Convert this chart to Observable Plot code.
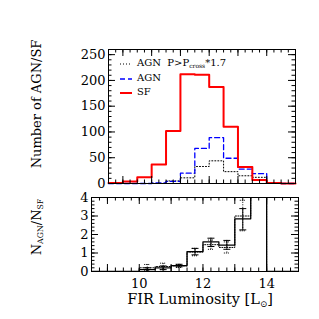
<!DOCTYPE html>
<html><head><meta charset="utf-8">
<script src="https://cdn.jsdelivr.net/npm/d3@7"></script>
<script src="https://cdn.jsdelivr.net/npm/@observablehq/plot@0.6"></script>
<style>
body{margin:0;background:#fff;}
#wrap{position:relative;width:319px;height:319px;font-family:"DejaVu Serif",serif;color:#000;overflow:hidden;}
#wrap > svg{position:absolute;left:0;font-family:"DejaVu Serif",serif !important;}
#wrap > svg text{font-family:"DejaVu Serif",serif;}
.lab{position:absolute;white-space:nowrap;font-size:13px;line-height:1;}
.rot{transform:translate(-50%,-50%) rotate(-90deg);}
.leg{position:absolute;left:119px;font-size:10px;line-height:1;white-space:nowrap;}
.leg svg{vertical-align:middle;margin-right:4px;}
sub{font-size:0.6em;vertical-align:-0.35em;line-height:0;}
</style></head><body><div id="wrap"></div>
<script>
// bin edges of the FIR luminosity histograms (0.5 dex bins)
const binEdges = [8.5, 9, 9.5, 10, 10.5, 11, 11.5, 12, 12.5, 13, 13.5, 14, 14.5, 15];
// top panel: counts per bin
const sfCounts        = [1, 4, 12, 37, 102, 212, 211, 187, 110, 32, 7, 1, 0];
const agnCounts       = [0, 0, 0, 1, 4, 20, 68, 89, 49, 28, 19, 1, 0];
const agnStrictCounts = [0, 0, 0, 0, 5, 11, 33, 44, 23, 15, 12, 0, 0];
// bottom panel: ratio per bin (bin 13.5-14 runs off the top)
const ratioAll    = [0, 0, 0, 0.1, 0.2, 0.32, 1.07, 1.6, 1.43, 2.85, 6, 0, 0];
const ratioStrict = [0, 0, 0, 0.2, 0.27, 0.3, 1.05, 1.45, 1.3, 3.0, 6, 0, 0];
// error bars
const errX        = [10.25, 10.75, 11.25, 11.75, 12.25, 12.75, 13.25];
const errAllLo    = [0.0, 0.1, 0.25, 0.9, 1.35, 1.2, 2.25];
const errAllHi    = [0.2, 0.3, 0.39, 1.25, 1.8, 1.68, 3.4];
const errStrictLo = [0.05, 0.1, 0.22, 0.85, 1.2, 1.0, 2.2];
const errStrictHi = [0.38, 0.45, 0.38, 1.25, 1.7, 1.6, 3.85];
// tick labels
const topYTicks = [0, 50, 100, 150, 200, 250];
const botYTicks = [0, 1, 2, 3, 4];
const botXTicks = [10, 12, 14];

const steps = vals => binEdges.map((e, i) => ({x: e, y: vals[Math.min(i, vals.length - 1)]}));
const errs = (lo, hi) => errX.map((x, i) => ({x, lo: lo[i], hi: hi[i]}));
const capSymbol = {draw(ctx, size) { const w = Math.sqrt(size / Math.PI); ctx.moveTo(-w, 0); ctx.lineTo(w, 0); }};
const fmt = d => String(d);

function insideTicks(H, W, xMaj, xMin, yMaj, yMin, lMaj, lMin) {
  return [
    Plot.ruleX(xMaj, {insetTop: H - lMaj, stroke: "#000"}),
    Plot.ruleX(xMaj, {insetBottom: H - lMaj, stroke: "#000"}),
    Plot.ruleX(xMin, {insetTop: H - lMin, stroke: "#000"}),
    Plot.ruleX(xMin, {insetBottom: H - lMin, stroke: "#000"}),
    Plot.ruleY(yMaj, {insetRight: W - lMaj, stroke: "#000"}),
    Plot.ruleY(yMaj, {insetLeft: W - lMaj, stroke: "#000"}),
    Plot.ruleY(yMin, {insetRight: W - lMin, stroke: "#000"}),
    Plot.ruleY(yMin, {insetLeft: W - lMin, stroke: "#000"})
  ];
}

const font = "DejaVu Serif";
const wrap = document.getElementById("wrap");

// ---------- top panel ----------
const tH = 190, tMT = 49, tMB = 7, tML = 108, tMR = 24;
const topPlot = Plot.plot({
  width: 319, height: tH,
  marginTop: tMT, marginBottom: tMB, marginLeft: tML, marginRight: tMR,
  style: {fontFamily: font, fontSize: "13px", background: "transparent", overflow: "visible"},
  x: {domain: [8.5, 15], axis: null},
  y: {domain: [0, 260]},
  marks: [
    Plot.axisY({ticks: topYTicks, tickFormat: fmt, tickSize: 0, tickPadding: 3, label: null, fontSize: 13, fontFamily: font}),
    Plot.line(steps(agnStrictCounts), {x: "x", y: "y", curve: "step-after", stroke: "#000", strokeWidth: 1, strokeDasharray: "1,2"}),
    Plot.line(steps(agnCounts), {x: "x", y: "y", curve: "step-after", stroke: "#0000ff", strokeWidth: 1.3, strokeDasharray: "5,3"}),
    Plot.line(steps(sfCounts), {x: "x", y: "y", curve: "step-after", stroke: "#ff0000", strokeWidth: 2}),
    ...insideTicks(tH - tMT - tMB, 319 - tML - tMR,
      d3.range(9, 15, 1), d3.range(8.75, 15, 0.25),
      topYTicks, d3.range(10, 260, 10), 7, 3.5),
    Plot.frame({stroke: "#000"})
  ]
});
topPlot.style.top = "0px";
wrap.appendChild(topPlot);

// ---------- bottom panel ----------
const bTop = 190, bH = 129, bMT = 7, bMB = 48, bML = 91, bMR = 21;
const botPlot = Plot.plot({
  width: 319, height: bH,
  marginTop: bMT, marginBottom: bMB, marginLeft: bML, marginRight: bMR,
  style: {fontFamily: font, fontSize: "13px", background: "transparent", overflow: "visible"},
  x: {domain: [8.5, 15]},
  y: {domain: [0, 4]},
  marks: [
    Plot.axisX({ticks: botXTicks, tickFormat: fmt, tickSize: 0, tickPadding: 7, label: null, fontSize: 13, fontFamily: font}),
    Plot.axisY({ticks: botYTicks, tickFormat: fmt, tickSize: 0, tickPadding: 3, label: null, fontSize: 13, fontFamily: font}),
    Plot.line(steps(ratioStrict), {x: "x", y: "y", curve: "step-after", stroke: "#000", strokeWidth: 1, strokeDasharray: "1,1.5", clip: true}),
    Plot.line(steps(ratioAll), {x: "x", y: "y", curve: "step-after", stroke: "#000", strokeWidth: 1.3, clip: true}),
    Plot.ruleX(errs(errStrictLo, errStrictHi), {x: "x", y1: "lo", y2: "hi", stroke: "#000", strokeWidth: 1, strokeDasharray: "1,1.5"}),
    Plot.dot(errs(errStrictLo, errStrictHi), {x: "x", y: "lo", symbol: capSymbol, r: 3, stroke: "#000", strokeWidth: 1, strokeDasharray: "1,1", fill: "none"}),
    Plot.dot(errs(errStrictLo, errStrictHi), {x: "x", y: "hi", symbol: capSymbol, r: 3, stroke: "#000", strokeWidth: 1, strokeDasharray: "1,1", fill: "none"}),
    Plot.ruleX(errs(errAllLo, errAllHi), {x: "x", y1: "lo", y2: "hi", stroke: "#000", strokeWidth: 1}),
    Plot.dot(errs(errAllLo, errAllHi), {x: "x", y: "lo", symbol: capSymbol, r: 3.5, stroke: "#000", strokeWidth: 1, fill: "none"}),
    Plot.dot(errs(errAllLo, errAllHi), {x: "x", y: "hi", symbol: capSymbol, r: 3.5, stroke: "#000", strokeWidth: 1, fill: "none"}),
    ...insideTicks(bH - bMT - bMB, 319 - bML - bMR,
      d3.range(9, 15, 1), d3.range(8.75, 15, 0.25),
      botYTicks, d3.range(0.2, 4, 0.2), 7, 3.5),
    Plot.frame({stroke: "#000"})
  ]
});
botPlot.style.top = bTop + "px";
wrap.appendChild(botPlot);

// ---------- labels & legend ----------
function addLabel(html, left, topPx, cls) {
  const d = document.createElement("div");
  d.className = "lab " + (cls || "");
  d.innerHTML = html;
  d.style.left = left + "px";
  d.style.top = topPx + "px";
  wrap.appendChild(d);
  return d;
}
addLabel("Number of AGN/SF", 36, 104, "rot");
addLabel("N<sub>AGN</sub>/N<sub>SF</sub>", 36, 227, "rot");
const xl = addLabel("FIR Luminosity [L<sub>⊙</sub>]", 200, 299);
xl.style.transform = "translate(-50%,-50%)";
xl.style.fontSize = "14.5px";

const legendItems = [
  {html: "AGN&nbsp; P&gt;P<sub>cross</sub>*1.7", stroke: "#000", dash: "1,2", w: 1, y: 64},
  {html: "AGN", stroke: "#0000ff", dash: "5,3", w: 1.3, y: 79},
  {html: "SF", stroke: "#ff0000", dash: null, w: 2, y: 93}
];
for (const it of legendItems) {
  const d = document.createElement("div");
  d.className = "leg";
  d.style.top = (it.y - 6) + "px";
  d.innerHTML = `<svg width="14" height="6"><line x1="1" y1="3" x2="13" y2="3" stroke="${it.stroke}" stroke-width="${it.w}" ${it.dash ? `stroke-dasharray="${it.dash}"` : ""}/></svg>${it.html}`;
  wrap.appendChild(d);
}
</script></body></html>
